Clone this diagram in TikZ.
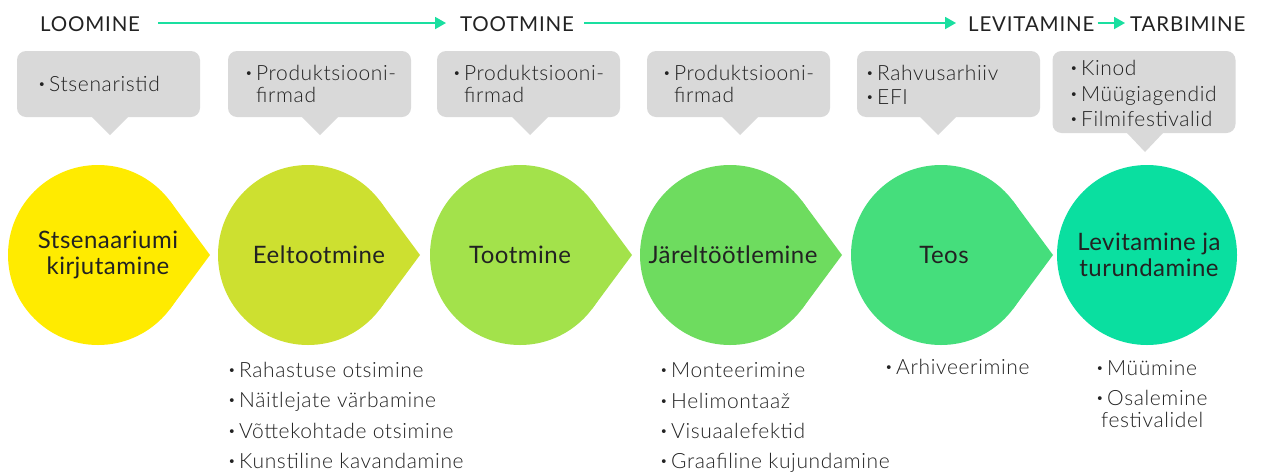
\documentclass[tikz,border=0pt]{standalone}
\usepackage{fontspec}
\setmainfont{Lato}[LetterSpace=2]
\newfontfamily\lightfont{Lato Light}[LetterSpace=3]
\newfontfamily\headfont{Lato}[LetterSpace=4]
\usetikzlibrary{arrows.meta}
\definecolor{txt}{HTML}{222222}
\definecolor{callg}{HTML}{D9D9D9}
\definecolor{arrowc}{HTML}{1ADFA0}
\definecolor{cA}{HTML}{FFEB00}
\definecolor{cB}{HTML}{CDE030}
\definecolor{cC}{HTML}{A3E24B}
\definecolor{cD}{HTML}{6EDC5F}
\definecolor{cE}{HTML}{45DE7C}
\definecolor{cF}{HTML}{0ADFA0}
\newcommand\bul{\makebox[11pt][l]{\raisebox{2.2pt}{\fontsize{13}{13}\selectfont •}}}
\newcommand\ind{\hspace*{11pt}}
\newcommand\tdrop[3]{% cx, cy, colour
  \fill[#3] (#1,#2) circle[radius=90];
  \fill[#3] (#1+72.3,#2-53.6) -- (#1+112,#2) -- (#1+72.3,#2+53.6) -- (#1,#2) -- cycle;}
\begin{document}
\begin{tikzpicture}[x=1pt,y=-1pt,
  head/.style={font=\headfont\fontsize{20.5}{24}\selectfont, text=txt, inner sep=0, anchor=base west},
  harrow/.style={draw=arrowc, line width=1.8pt, -{Triangle[length=11pt,width=12pt]}},
  callout/.style={fill=callg, rounded corners=9pt, minimum width=183pt, inner sep=0},
  ptr/.style={fill=callg},
  title/.style={font=\fontsize{24}{26}\selectfont, text=txt, align=center, inner sep=0},
  item/.style={font=\lightfont\fontsize{21}{22}\selectfont, text=txt, anchor=base west, inner sep=0}]
\useasboundingbox (0,0) rectangle (1263,472);

% header
\node[head] (loom) at (40,31) {LOOMINE};
\node[head] (toot) at (460,31) {TOOTMINE};
\node[head] (levi) at (968,31) {LEVITAMINE};
\node[head] (tarb) at (1130,31) {TARBIMINE};
\draw[harrow] ([xshift=18pt]loom.east |- 0,23) -- ([xshift=-14pt]toot.west |- 0,23);
\draw[harrow] ([xshift=10pt]toot.east |- 0,23) -- ([xshift=-12pt]levi.west |- 0,23);
\draw[harrow] ([xshift=3pt]levi.east |- 0,23) -- ([xshift=-5pt]tarb.west |- 0,23);

% callouts
\node[callout, minimum height=66pt] (k1) at (108.5,84) {};
\node[callout, minimum height=66pt] (k2) at (319.5,84) {};
\node[callout, minimum height=66pt] (k3) at (528.5,84) {};
\node[callout, minimum height=66pt] (k4) at (738.5,84) {};
\node[callout, minimum height=66pt] (k5) at (948.5,84) {};
\node[callout, minimum height=82pt] (k6) at (1144,92) {};
\fill[ptr] (92,117) -- (110,135) -- (128,117) -- cycle;
\fill[ptr] (302,117) -- (320,135) -- (338,117) -- cycle;
\fill[ptr] (512,117) -- (530,135) -- (548,117) -- cycle;
\fill[ptr] (722,117) -- (740,135) -- (758,117) -- cycle;
\fill[ptr] (920,117) -- (938,135) -- (956,117) -- cycle;
\fill[ptr] (1127,133) -- (1145,152) -- (1163,133) -- cycle;

\node[item] (k1a) at (38,91) {\bul Stsenaristid};
\node[item] (k2a) at (245,80) {\bul Produktsiooni-};
\node[item] (k2b) at (245,102) {\ind firmad};
\node[item] (k3a) at (453,80) {\bul Produktsiooni-};
\node[item] (k3b) at (453,102) {\ind firmad};
\node[item] (k4a) at (663,80) {\bul Produktsiooni-};
\node[item] (k4b) at (663,102) {\ind firmad};
\node[item] (k5a) at (866,80) {\bul Rahvusarhiiv};
\node[item] (k5b) at (866,104) {\bul EFI};
\node[item] (k6a) at (1070,75) {\bul Kinod};
\node[item] (k6b) at (1070,101) {\bul Müügiagendid};
\node[item] (k6c) at (1070,126) {\bul Filmifestivalid};

% stages
\tdrop{98}{255}{cA}
\tdrop{308}{255}{cB}
\tdrop{520}{255}{cC}
\tdrop{730}{255}{cD}
\tdrop{941}{255}{cE}
\fill[cF] (1147,255) circle[radius=90];
\node[title] (s1) at (108,255) {Stsenaariumi\\kirjutamine};
\node[title] (s2) at (319,255) {Eeltootmine};
\node[title] (s3) at (520,255) {Tootmine};
\node[title] (s4) at (733,255) {Järeltöötlemine};
\node[title] (s5) at (944,255) {Teos};
\node[title] (s6) at (1149,255) {Levitamine ja\\turundamine};

% lists
\node[item] (l1a) at (228,377) {\bul Rahastuse otsimine};
\node[item] (l1b) at (228,407) {\bul Näitlejate värbamine};
\node[item] (l1c) at (228,438) {\bul Võttekohtade otsimine};
\node[item] (l1d) at (228,468) {\bul Kunstiline kavandamine};
\node[item] (l2a) at (660,377) {\bul Monteerimine};
\node[item] (l2b) at (660,408) {\bul Helimontaaž};
\node[item] (l2c) at (660,438) {\bul Visuaalefektid};
\node[item] (l2d) at (660,468) {\bul Graafiline kujundamine};
\node[item] (l3a) at (885,374) {\bul Arhiveerimine};
\node[item] (l4a) at (1096,375) {\bul Müümine};
\node[item] (l4b) at (1096,405) {\bul Osalemine};
\node[item] (l4c) at (1096,427) {\hspace*{5pt}festivalidel};
\end{tikzpicture}
\end{document}
